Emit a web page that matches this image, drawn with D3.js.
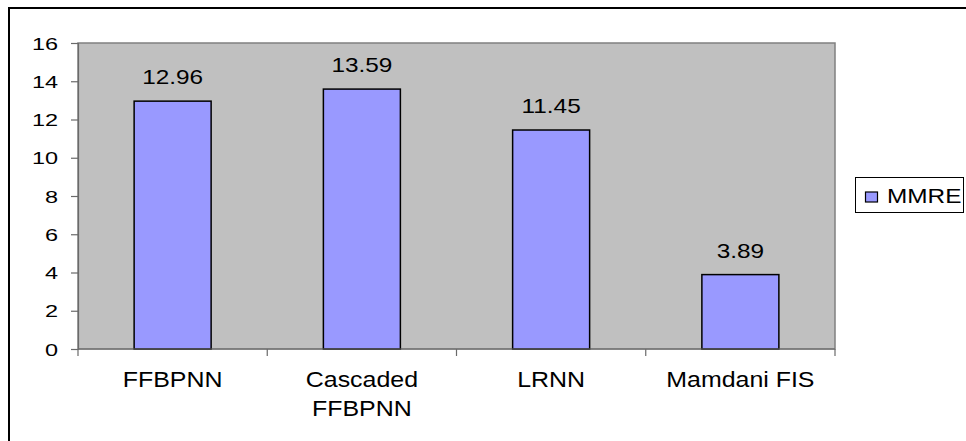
<!DOCTYPE html>
<html><head><meta charset="utf-8">
<script src="https://cdn.jsdelivr.net/npm/d3@7"></script>
<style>
body{margin:0;background:#fff;}
svg{display:block;font-family:"Liberation Sans",Arial,sans-serif;}
</style></head>
<body><svg id="c" width="966" height="441"></svg>
<script>
const categories = [["FFBPNN"], ["Cascaded", "FFBPNN"], ["LRNN"], ["Mamdani FIS"]];
const categoryKeys = ["FFBPNN", "Cascaded FFBPNN", "LRNN", "Mamdani FIS"];
const mmre = [12.96, 13.59, 11.45, 3.89];
const yTicks = [0, 2, 4, 6, 8, 10, 12, 14, 16];
const seriesName = "MMRE";

const svg = d3.select("#c");
const L = 78, R = 835, T = 43, B = 349;
const SX = 1.16;      // horizontal stretch of the reference's text
const SXT = 1.38;     // stretch of the tick labels

// outer border
svg.append("rect").attr("x", 9).attr("y", 8).attr("width", 1000).attr("height", 500)
  .attr("fill", "#fff").attr("stroke", "#000").attr("stroke-width", 2);

const x = d3.scaleBand().domain(categoryKeys).range([L, R]).paddingInner(0).paddingOuter(0);
const y = d3.scaleLinear().domain([0, 16]).range([B, T]);

// plot area
svg.append("rect").attr("x", L).attr("y", T).attr("width", R - L).attr("height", B - T)
  .attr("fill", "#C0C0C0").attr("stroke", "#808080").attr("stroke-width", 1.5);

// bars
const bw = 77;
svg.selectAll("rect.bar").data(mmre).enter().append("rect").attr("class", "bar")
  .attr("x", (d, i) => x(categoryKeys[i]) + x.bandwidth() / 2 - bw / 2)
  .attr("y", d => y(d)).attr("width", bw).attr("height", d => B - y(d))
  .attr("fill", "#9999FF").attr("stroke", "#000").attr("stroke-width", 1.5);

// data labels
svg.selectAll("text.lab").data(mmre).enter().append("text").attr("class", "lab")
  .attr("transform", (d, i) => `translate(${x(categoryKeys[i]) + x.bandwidth() / 2},${y(d) - 17}) scale(${SX},1)`)
  .attr("text-anchor", "middle")
  .attr("font-size", 21).attr("fill", "#000").text(d => d.toFixed(2));

// y axis
const yAxis = svg.append("g").attr("transform", `translate(${L},0)`)
  .call(d3.axisLeft(y).tickValues(yTicks).tickSize(7).tickPadding(0).tickFormat(d3.format("d")));
yAxis.select(".domain").attr("stroke", "#6a6a6a").attr("stroke-width", 1.2);
yAxis.selectAll(".tick line").attr("stroke", "#6a6a6a").attr("stroke-width", 1.2);
yAxis.selectAll(".tick text")
  .attr("x", null).attr("dy", null)
  .attr("transform", `translate(-20,6) scale(${SXT},1)`)
  .attr("font-size", 17).attr("fill", "#000")
  .attr("font-family", "Liberation Sans, Arial, sans-serif");

// x axis line and boundary ticks
const xAxisG = svg.append("g");
xAxisG.append("line").attr("x1", L).attr("x2", R).attr("y1", B).attr("y2", B)
  .attr("stroke", "#6a6a6a").attr("stroke-width", 1.2);
const bounds = categoryKeys.map(k => x(k)).concat([x(categoryKeys[categoryKeys.length - 1]) + x.bandwidth()]);
xAxisG.selectAll("line.t").data(bounds).enter().append("line").attr("class", "t")
  .attr("x1", d => d).attr("x2", d => d).attr("y1", B).attr("y2", B + 7)
  .attr("stroke", "#6a6a6a").attr("stroke-width", 1.2);

// category labels
categories.forEach((lines, i) => {
  const cx = x(categoryKeys[i]) + x.bandwidth() / 2;
  lines.forEach((ln, j) => {
    svg.append("text")
      .attr("transform", `translate(${cx},${387 + j * 28.5}) scale(${SX},1)`)
      .attr("text-anchor", "middle").attr("font-size", 21.5).attr("fill", "#000").text(ln);
  });
});

// legend
const lg = svg.append("g");
lg.append("rect").attr("x", 855.5).attr("y", 177.5).attr("width", 108).attr("height", 35)
  .attr("fill", "#fff").attr("stroke", "#000").attr("stroke-width", 1);
lg.append("rect").attr("x", 865.5).attr("y", 192).attr("width", 12).attr("height", 10)
  .attr("fill", "#9999FF").attr("stroke", "#000").attr("stroke-width", 1.2);
lg.append("text").attr("transform", `translate(887,202.5) scale(${SX},1)`)
  .attr("font-size", 21).attr("fill", "#000").text(seriesName);
</script>
</body></html>
